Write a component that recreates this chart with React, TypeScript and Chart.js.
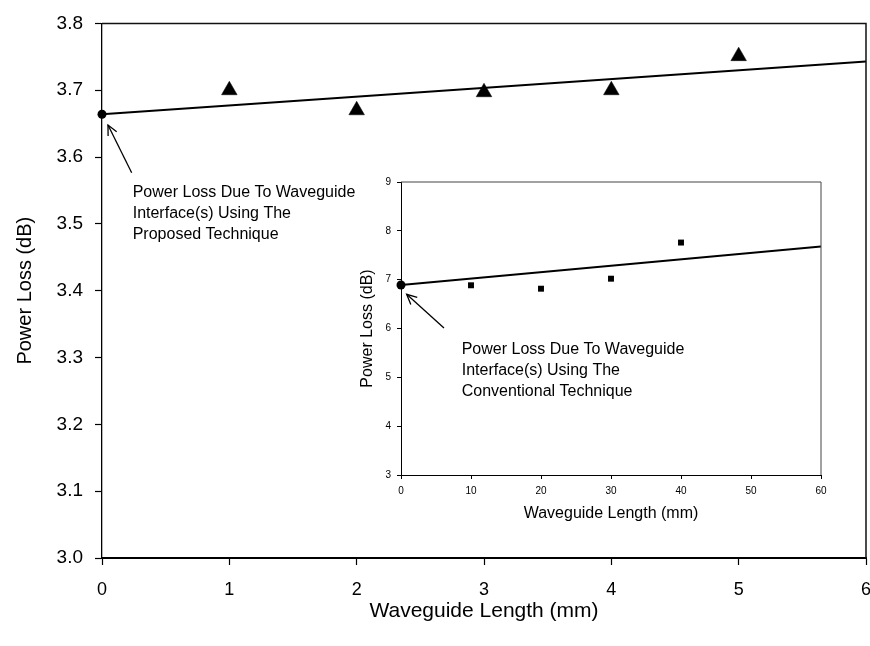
import React, { useEffect, useRef } from "react";
import { Chart, registerables } from "chart.js";

Chart.register(...registerables);

const FONT = '"Liberation Sans", Arial, Helvetica, sans-serif';
Chart.defaults.font.family = FONT;
Chart.defaults.color = "#000";

// ---- Main chart data (proposed technique) ----
const mainLengths = [1, 2, 3, 4, 5];
const mainLoss = [3.7, 3.67, 3.697, 3.7, 3.751];
const mainInterface = { x: 0, y: 3.664 };
const mainFitX = [0, 6];
const mainFitY = [3.664, 3.743];
const mainYTicks = [3.0, 3.1, 3.2, 3.3, 3.4, 3.5, 3.6, 3.7, 3.8];

// ---- Inset chart data (conventional technique) ----
const insetLengths = [10, 20, 30, 40];
const insetLoss = [6.885, 6.815, 7.02, 7.76];
const insetInterface = { x: 0, y: 6.89 };
const insetFitX = [0, 60];
const insetFitY = [6.89, 7.68];

// ---- Callout texts ----
const mainCalloutLines = [
  "Power Loss Due To Waveguide",
  "Interface(s) Using The",
  "Proposed Technique",
];
const insetCalloutLines = [
  "Power Loss Due To Waveguide",
  "Interface(s) Using The",
  "Conventional Technique",
];

type Callout = {
  tip: [number, number];
  tail: [number, number];
  textAt: [number, number];
  lines: string[];
};

const mainCallout: Callout = {
  tip: [0.047, 3.648],
  tail: [0.233, 3.5765],
  textAt: [0.241, 3.5467],
  lines: mainCalloutLines,
};
const insetCallout: Callout = {
  tip: [0.81, 6.7],
  tail: [6.14, 6.01],
  textAt: [8.67, 5.57],
  lines: insetCalloutLines,
};

function calloutPlugin(c: Callout, frameWidth: number, frameColor: string) {
  return {
    id: "callout",
    afterDraw(chart: any) {
      const { ctx, chartArea, scales } = chart;
      const x = scales.x;
      const y = scales.y;
      ctx.save();
      // frame: top and right sides
      ctx.strokeStyle = frameColor;
      ctx.lineWidth = frameWidth;
      ctx.beginPath();
      ctx.moveTo(chartArea.left, chartArea.top);
      ctx.lineTo(chartArea.right, chartArea.top);
      ctx.lineTo(chartArea.right, chartArea.bottom);
      ctx.stroke();

      // arrow
      const tx = x.getPixelForValue(c.tip[0]);
      const ty = y.getPixelForValue(c.tip[1]);
      const sx = x.getPixelForValue(c.tail[0]);
      const sy = y.getPixelForValue(c.tail[1]);
      ctx.strokeStyle = "#000";
      ctx.lineWidth = 1.3;
      ctx.beginPath();
      ctx.moveTo(sx, sy);
      ctx.lineTo(tx, ty);
      ctx.stroke();
      const ang = Math.atan2(ty - sy, tx - sx);
      const head = 11;
      const spread = 0.45;
      ctx.beginPath();
      ctx.moveTo(tx - head * Math.cos(ang - spread), ty - head * Math.sin(ang - spread));
      ctx.lineTo(tx, ty);
      ctx.lineTo(tx - head * Math.cos(ang + spread), ty - head * Math.sin(ang + spread));
      ctx.stroke();

      // text
      ctx.font = `16px ${FONT}`;
      ctx.fillStyle = "#000";
      ctx.textAlign = "left";
      ctx.textBaseline = "middle";
      const lx = x.getPixelForValue(c.textAt[0]);
      const ly = y.getPixelForValue(c.textAt[1]);
      c.lines.forEach((l, i) => ctx.fillText(l, lx, ly + i * 21));
      ctx.restore();
    },
  };
}

export default function App() {
  const mainRef = useRef<HTMLCanvasElement | null>(null);
  const insetRef = useRef<HTMLCanvasElement | null>(null);

  useEffect(() => {
    if (!mainRef.current || !insetRef.current) return;

    const main = new Chart(mainRef.current, {
      type: "scatter",
      data: {
        datasets: [
          {
            type: "line",
            label: "Fit",
            data: mainFitX.map((x, i) => ({ x, y: mainFitY[i] })),
            borderColor: "#000",
            borderWidth: 2,
            pointRadius: 0,
            clip: false,
          } as any,
          {
            label: "Measured",
            data: mainLengths.map((x, i) => ({ x, y: mainLoss[i] })),
            pointStyle: "triangle",
            pointRadius: 9,
            backgroundColor: "#000",
            borderColor: "#000",
            borderWidth: 0.5,
            clip: false,
          } as any,
          {
            label: "Interface",
            data: [mainInterface],
            pointStyle: "circle",
            pointRadius: 4.5,
            backgroundColor: "#000",
            borderColor: "#000",
            borderWidth: 0,
            clip: false,
          } as any,
        ],
      },
      options: {
        animation: false,
        responsive: false,
        layout: { autoPadding: false, padding: { top: 21, right: 4, left: 0, bottom: 0 } },
        plugins: { legend: { display: false }, tooltip: { enabled: false } },
        scales: {
          x: {
            type: "linear",
            min: 0,
            max: 6,
            ticks: {
              stepSize: 1,
              autoSkip: false,
              font: { size: 18 },
              color: "#000",
              padding: 14,
              maxRotation: 0,
            },
            grid: {
              drawOnChartArea: false,
              tickLength: 7,
              color: "#000",
              tickWidth: 1.2,
            },
            border: { color: "#000", width: 2 },
            title: {
              display: true,
              text: "Waveguide Length (mm)",
              font: { size: 21 },
              color: "#000",
              padding: { top: 0, bottom: 22 },
            },
            afterFit(s: any) {
              s.height = 88;
              s.paddingRight = 0;
              s.paddingLeft = 0;
            },
          },
          y: {
            type: "linear",
            min: 3.0,
            max: 3.8,
            afterBuildTicks(s: any) {
              s.ticks = mainYTicks.map((v) => ({ value: v }));
            },
            ticks: {
              font: { size: 19 },
              color: "#000",
              padding: 12,
              callback: (v: any) => Number(v).toFixed(1),
            },
            grid: {
              drawOnChartArea: false,
              tickLength: 7,
              color: "#000",
              tickWidth: 1.2,
            },
            border: { color: "#000", width: 1.3 },
            title: {
              display: true,
              text: "Power Loss (dB)",
              font: { size: 20 },
              color: "#000",
              padding: { top: 13, bottom: 0 },
            },
            afterFit(s: any) {
              s.width = 102;
            },
          },
        },
      } as any,
      plugins: [calloutPlugin(mainCallout, 1.5, "#111")],
    });

    const inset = new Chart(insetRef.current, {
      type: "scatter",
      data: {
        datasets: [
          {
            type: "line",
            label: "Fit",
            data: insetFitX.map((x, i) => ({ x, y: insetFitY[i] })),
            borderColor: "#000",
            borderWidth: 2,
            pointRadius: 0,
            clip: false,
          } as any,
          {
            label: "Measured",
            data: insetLengths.map((x, i) => ({ x, y: insetLoss[i] })),
            pointStyle: "rect",
            pointRadius: 4.2,
            backgroundColor: "#000",
            borderColor: "#000",
            borderWidth: 0,
            clip: false,
          } as any,
          {
            label: "Interface",
            data: [insetInterface],
            pointStyle: "circle",
            pointRadius: 4.5,
            backgroundColor: "#000",
            borderColor: "#000",
            borderWidth: 0,
            clip: false,
          } as any,
        ],
      },
      options: {
        animation: false,
        responsive: false,
        layout: { autoPadding: false, padding: { top: 9, right: 9, left: 0, bottom: 0 } },
        plugins: { legend: { display: false }, tooltip: { enabled: false } },
        scales: {
          x: {
            type: "linear",
            min: 0,
            max: 60,
            ticks: {
              stepSize: 10,
              autoSkip: false,
              font: { size: 10 },
              color: "#000",
              padding: 6,
              maxRotation: 0,
            },
            grid: {
              drawOnChartArea: false,
              tickLength: 4,
              color: "#000",
              tickWidth: 1,
            },
            border: { color: "#000", width: 1 },
            title: {
              display: true,
              text: "Waveguide Length (mm)",
              font: { size: 16 },
              color: "#000",
              padding: { top: 0, bottom: 7 },
            },
            afterFit(s: any) {
              s.height = 55;
              s.paddingRight = 0;
              s.paddingLeft = 0;
            },
          },
          y: {
            type: "linear",
            min: 3,
            max: 9,
            ticks: {
              stepSize: 1,
              font: { size: 10 },
              color: "#000",
              padding: 6,
            },
            grid: {
              drawOnChartArea: false,
              tickLength: 4,
              color: "#000",
              tickWidth: 1,
            },
            border: { color: "#000", width: 1 },
            title: {
              display: true,
              text: "Power Loss (dB)",
              font: { size: 16, lineHeight: 0.9 },
              color: "#000",
              padding: { top: 0, bottom: 0 },
            },
            afterFit(s: any) {
              s.width = 41;
            },
          },
        },
      } as any,
      plugins: [calloutPlugin(insetCallout, 1, "#444")],
    });

    return () => {
      main.destroy();
      inset.destroy();
    };
  }, []);

  return (
    <div
      style={{
        position: "absolute",
        left: 0,
        top: 0,
        width: 870,
        height: 646,
        background: "#fff",
        overflow: "hidden",
      }}
    >
      <canvas
        ref={mainRef}
        width={870}
        height={646}
        style={{ position: "absolute", left: 0, top: 0, display: "block" }}
      />
      <canvas
        ref={insetRef}
        width={470}
        height={360}
        style={{ position: "absolute", left: 360, top: 170, display: "block" }}
      />
    </div>
  );
}
